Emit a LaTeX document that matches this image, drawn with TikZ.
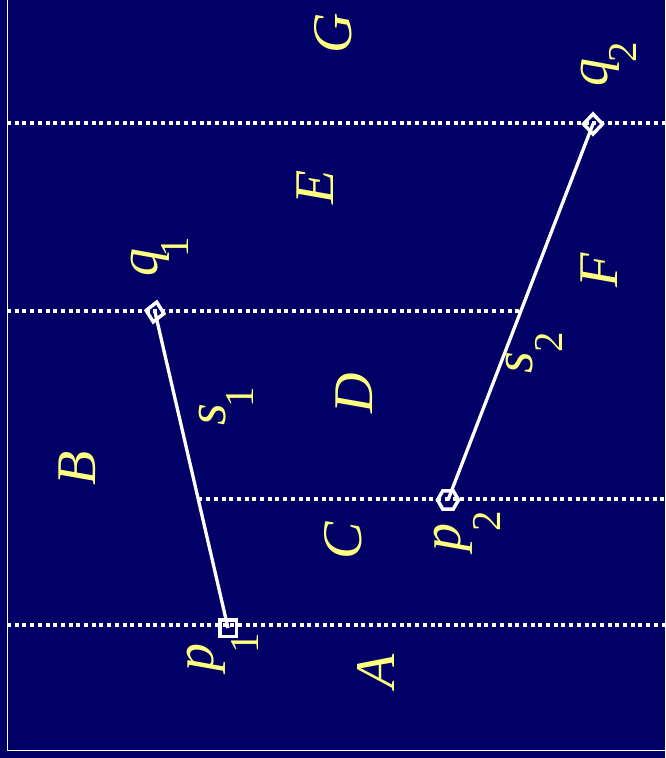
\documentclass[tikz,border=0pt]{standalone}
\usepackage{fontspec}
\setmainfont{Liberation Serif}
\usetikzlibrary{shapes.geometric,calc}
\definecolor{navy}{RGB}{0,0,102}
\definecolor{labyellow}{RGB}{255,255,128}
\begin{document}
\begin{tikzpicture}[x=1pt,y=-1pt,
  lab/.style={text=labyellow,font=\fontsize{56}{60}\selectfont\itshape,rotate=90,anchor=base,inner sep=0pt},
  sublab/.style={text=labyellow,font=\fontsize{41}{44}\selectfont\upshape,rotate=90,anchor=base,inner sep=0pt},
  seg/.style={draw=white,line width=3.3pt},
  vis/.style={draw=white,line width=3.5pt,dash pattern=on 4pt off 3.7pt},
  ptmark/.style={draw=white,line width=3.5pt,inner sep=0pt,outer sep=0pt}]
\fill[navy] (0,0) rectangle (665,758);
\useasboundingbox (0,0) rectangle (665,758);
% frame
\coordinate (ftop) at (7,0);
\coordinate (fcorner) at (7,750);
\coordinate (fright) at (665,750);
\draw[white,line width=0.9pt] (ftop) -- (fcorner) -- (fright);
% endpoints
\coordinate (p1) at (228,628);
\coordinate (q1) at (155,312);
\coordinate (p2) at (448,500);
\coordinate (q2) at (593,124);
% visibility lines
\coordinate (l1a) at (7,123);   \coordinate (l1b) at (665,123);
\coordinate (l2a) at (7,311);   \coordinate (l2b) at ($(p2)!0.505!(q2)$);
\coordinate (l3a) at ($(p1)!0.405!(q1)$); \coordinate (l3b) at (665,499);
\coordinate (l4a) at (7,625);   \coordinate (l4b) at (665,625);
\draw[vis] (l1a) -- (l1b);
\draw[vis] (l2a) -- (l2b |- l2a);
\draw[vis] (l3a |- l3b) -- (l3b);
\draw[vis] (l4a) -- (l4b);
% segments
\draw[seg] (p1) -- (q1);
\draw[seg] (p2) -- (q2);
% markers
\node[ptmark,rectangle,minimum size=16.5pt] (mp1) at (p1) {};
\node[ptmark,diamond,minimum width=18pt,minimum height=20pt,rotate=-10] (mq1) at (q1) {};
\node[ptmark,regular polygon,regular polygon sides=6,minimum size=21pt] (mp2) at (p2) {};
\node[ptmark,diamond,minimum width=19pt,minimum height=20pt] (mq2) at (q2) {};
% region labels
\node[lab] (A) at (394,671) {A};
\node[lab] (B) at (95,468) {B};
\node[lab] (C) at (361,541) {C};
\node[lab] (D) at (372,393) {D};
\node[lab] (E) at (333,187) {E};
\node[lab] (F) at (617,270) {F};
\node[lab] (G) at (351,33) {G};
% point and segment labels
\node[lab] (lp1) at (213,657) {p};
\node[sublab] (lp1s) at (258,643) {1};
\node[lab] (lq1) at (157,262) {q};
\node[sublab] (lq1s) at (188,247) {1};
\node[lab] (ls1) at (225,415) {s};
\node[sublab] (ls1s) at (253,397) {1};
\node[lab] (lp2) at (460,537) {p};
\node[sublab] (lp2s) at (500,521) {2};
\node[lab] (lq2) at (607,72) {q};
\node[sublab] (lq2s) at (636,52) {2};
\node[lab] (ls2) at (532,363) {s};
\node[sublab] (ls2s) at (562,342) {2};
\end{tikzpicture}
\end{document}
